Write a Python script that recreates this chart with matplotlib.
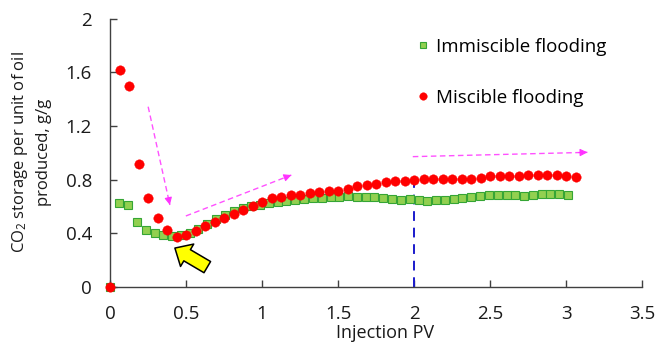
import matplotlib
matplotlib.use("Agg")
import matplotlib.pyplot as plt

plt.rcParams['font.family'] = ['Open Sans', 'DejaVu Sans']
plt.rcParams['mathtext.fontset'] = 'custom'
plt.rcParams['mathtext.rm'] = 'Open Sans'
plt.rcParams['mathtext.it'] = 'Open Sans'

# ---------------- data ----------------
miscible_x = [0, 0.0625, 0.125, 0.1875, 0.25, 0.3125, 0.375, 0.4375, 0.5, 0.5625,
              0.625, 0.6875, 0.75, 0.8125, 0.875, 0.9375, 1.0, 1.0625, 1.125, 1.1875,
              1.25, 1.3125, 1.375, 1.4375, 1.5, 1.5625, 1.625, 1.6875, 1.75, 1.8125,
              1.875, 1.9375, 2.0, 2.0625, 2.125, 2.1875, 2.25, 2.3125, 2.375, 2.4375,
              2.5, 2.5625, 2.625, 2.6875, 2.75, 2.8125, 2.875, 2.9375, 3.0, 3.0625]
miscible_y = [0, 1.62, 1.497, 0.916, 0.66, 0.516, 0.422, 0.37, 0.385, 0.417,
              0.454, 0.487, 0.511, 0.547, 0.572, 0.603, 0.63, 0.66, 0.672, 0.682,
              0.689, 0.699, 0.71, 0.715, 0.718, 0.730, 0.752, 0.760, 0.770, 0.785,
              0.790, 0.792, 0.800, 0.804, 0.804, 0.807, 0.807, 0.804, 0.807, 0.809,
              0.827, 0.827, 0.829, 0.829, 0.837, 0.834, 0.834, 0.832, 0.824, 0.819]

immiscible_x = [0, 0.061, 0.119, 0.177, 0.235, 0.293, 0.351, 0.408, 0.466, 0.524, 0.582,
                0.640, 0.698, 0.756, 0.814, 0.872, 0.930, 0.987, 1.045, 1.103, 1.161,
                1.219, 1.277, 1.335, 1.393, 1.451, 1.509, 1.566, 1.624, 1.682, 1.740,
                1.798, 1.856, 1.914, 1.972, 2.030, 2.087, 2.145, 2.203, 2.261, 2.319,
                2.377, 2.435, 2.493, 2.551, 2.609, 2.666, 2.724, 2.782, 2.840, 2.898,
                2.956, 3.014]
immiscible_y = [0, 0.623, 0.609, 0.482, 0.427, 0.402, 0.387, 0.382, 0.39, 0.405, 0.43,
                0.47, 0.505, 0.54, 0.565, 0.585, 0.60, 0.612, 0.622, 0.632, 0.64,
                0.647, 0.652, 0.66, 0.665, 0.668, 0.673, 0.678, 0.673, 0.668, 0.668,
                0.660, 0.655, 0.650, 0.653, 0.648, 0.643, 0.648, 0.648, 0.653, 0.660,
                0.668, 0.675, 0.685, 0.685, 0.685, 0.685, 0.678, 0.683, 0.693, 0.693,
                0.693, 0.685]

x_ticks = [0, 0.5, 1, 1.5, 2, 2.5, 3, 3.5]
x_tick_labels = ["0", "0.5", "1", "1.5", "2", "2.5", "3", "3.5"]
y_ticks = [0, 0.4, 0.8, 1.2, 1.6, 2.0]
y_tick_labels = ["0", "0.4", "0.8", "1.2", "1.6", "2"]

series_labels = ["Immiscible flooding", "Miscible flooding"]
x_label = "Injection PV"
y_label = "CO$_2$ storage per unit of oil\nproduced, g/g"

# ---------------- figure ----------------
fig = plt.figure(figsize=(6.56, 3.43), dpi=100)
ax = fig.add_axes([110/656, 1 - 287/343, (642-110)/656, (287-18.5)/343])

axis_col = '#404040'
for s in ['top', 'right']:
    ax.spines[s].set_visible(False)
for s in ['left', 'bottom']:
    ax.spines[s].set_color(axis_col)
    ax.spines[s].set_linewidth(1.0)

# vertical dashed line at 2 PV
ax.plot([2, 2], [0, 0.8], color='#1a1aCC', lw=1.4, ls=(0, (5, 3.5)), zorder=2)

h1, = ax.plot(immiscible_x, immiscible_y, 's', ms=6.2, mfc='#92D050', mec='#35A535',
              mew=0.8, ls='none', zorder=3, clip_on=False, label=series_labels[0])
h2, = ax.plot(miscible_x, miscible_y, 'o', ms=6.8, mfc='#FF0000', mec='#FF0000',
              mew=0.3, ls='none', zorder=4, clip_on=False, label=series_labels[1])

ax.set_xlim(0, 3.5)
ax.set_ylim(0, 2)
ax.set_xticks(x_ticks)
ax.set_xticklabels(x_tick_labels)
ax.set_yticks(y_ticks)
ax.set_yticklabels(y_tick_labels)
ax.tick_params(axis='both', direction='in', length=5, width=1.0, color=axis_col,
               labelsize=13.5, labelcolor='#1a1a1a', pad=13)

ax.set_xlabel(x_label, fontsize=13, color='#1a1a1a')
ax.xaxis.set_label_coords(0.517, -0.136)
fig.text(31/656, 1 - 152/343, y_label, rotation=90, ha='center', va='center',
         multialignment='center', fontsize=12, color='#1a1a1a', linespacing=1.5)

leg = ax.legend(handles=[h1, h2], loc='center left', bbox_to_anchor=(0.571, 0.800),
                frameon=False, fontsize=13.5, handlelength=1.0, handletextpad=0.2,
                borderpad=0, borderaxespad=0, labelspacing=1.75, markerscale=0.8)

# magenta dashed trend arrows
mag = '#FF33FF'
arrows = [((0.251, 1.343), (0.394, 0.611)),
          ((0.499, 0.529), (1.193, 0.834)),
          ((1.992, 0.971), (3.141, 1.003))]
for (x0, y0), (x1, y1) in arrows:
    ax.plot([x0, x1], [y0, y1], color=mag, lw=1.0, ls=(0, (4, 2.5)), alpha=0.85, zorder=2)
    ax.annotate('', xy=(x1, y1), xytext=(x0 + 0.95*(x1-x0), y0 + 0.95*(y1-y0)),
                arrowprops=dict(arrowstyle='-|>', color=mag, lw=0.8,
                                mutation_scale=11, shrinkA=0, shrinkB=0), zorder=2)

# yellow block arrow
ax.annotate('', xy=(0.427, 0.29), xytext=(0.64, 0.148),
            arrowprops=dict(arrowstyle='simple,head_length=0.6,head_width=1.1,tail_width=0.55',
                            fc='#FFFF00', ec='black', lw=1.1, mutation_scale=17,
                            shrinkA=0, shrinkB=0), zorder=5)

fig.savefig('out.png', dpi=100)
